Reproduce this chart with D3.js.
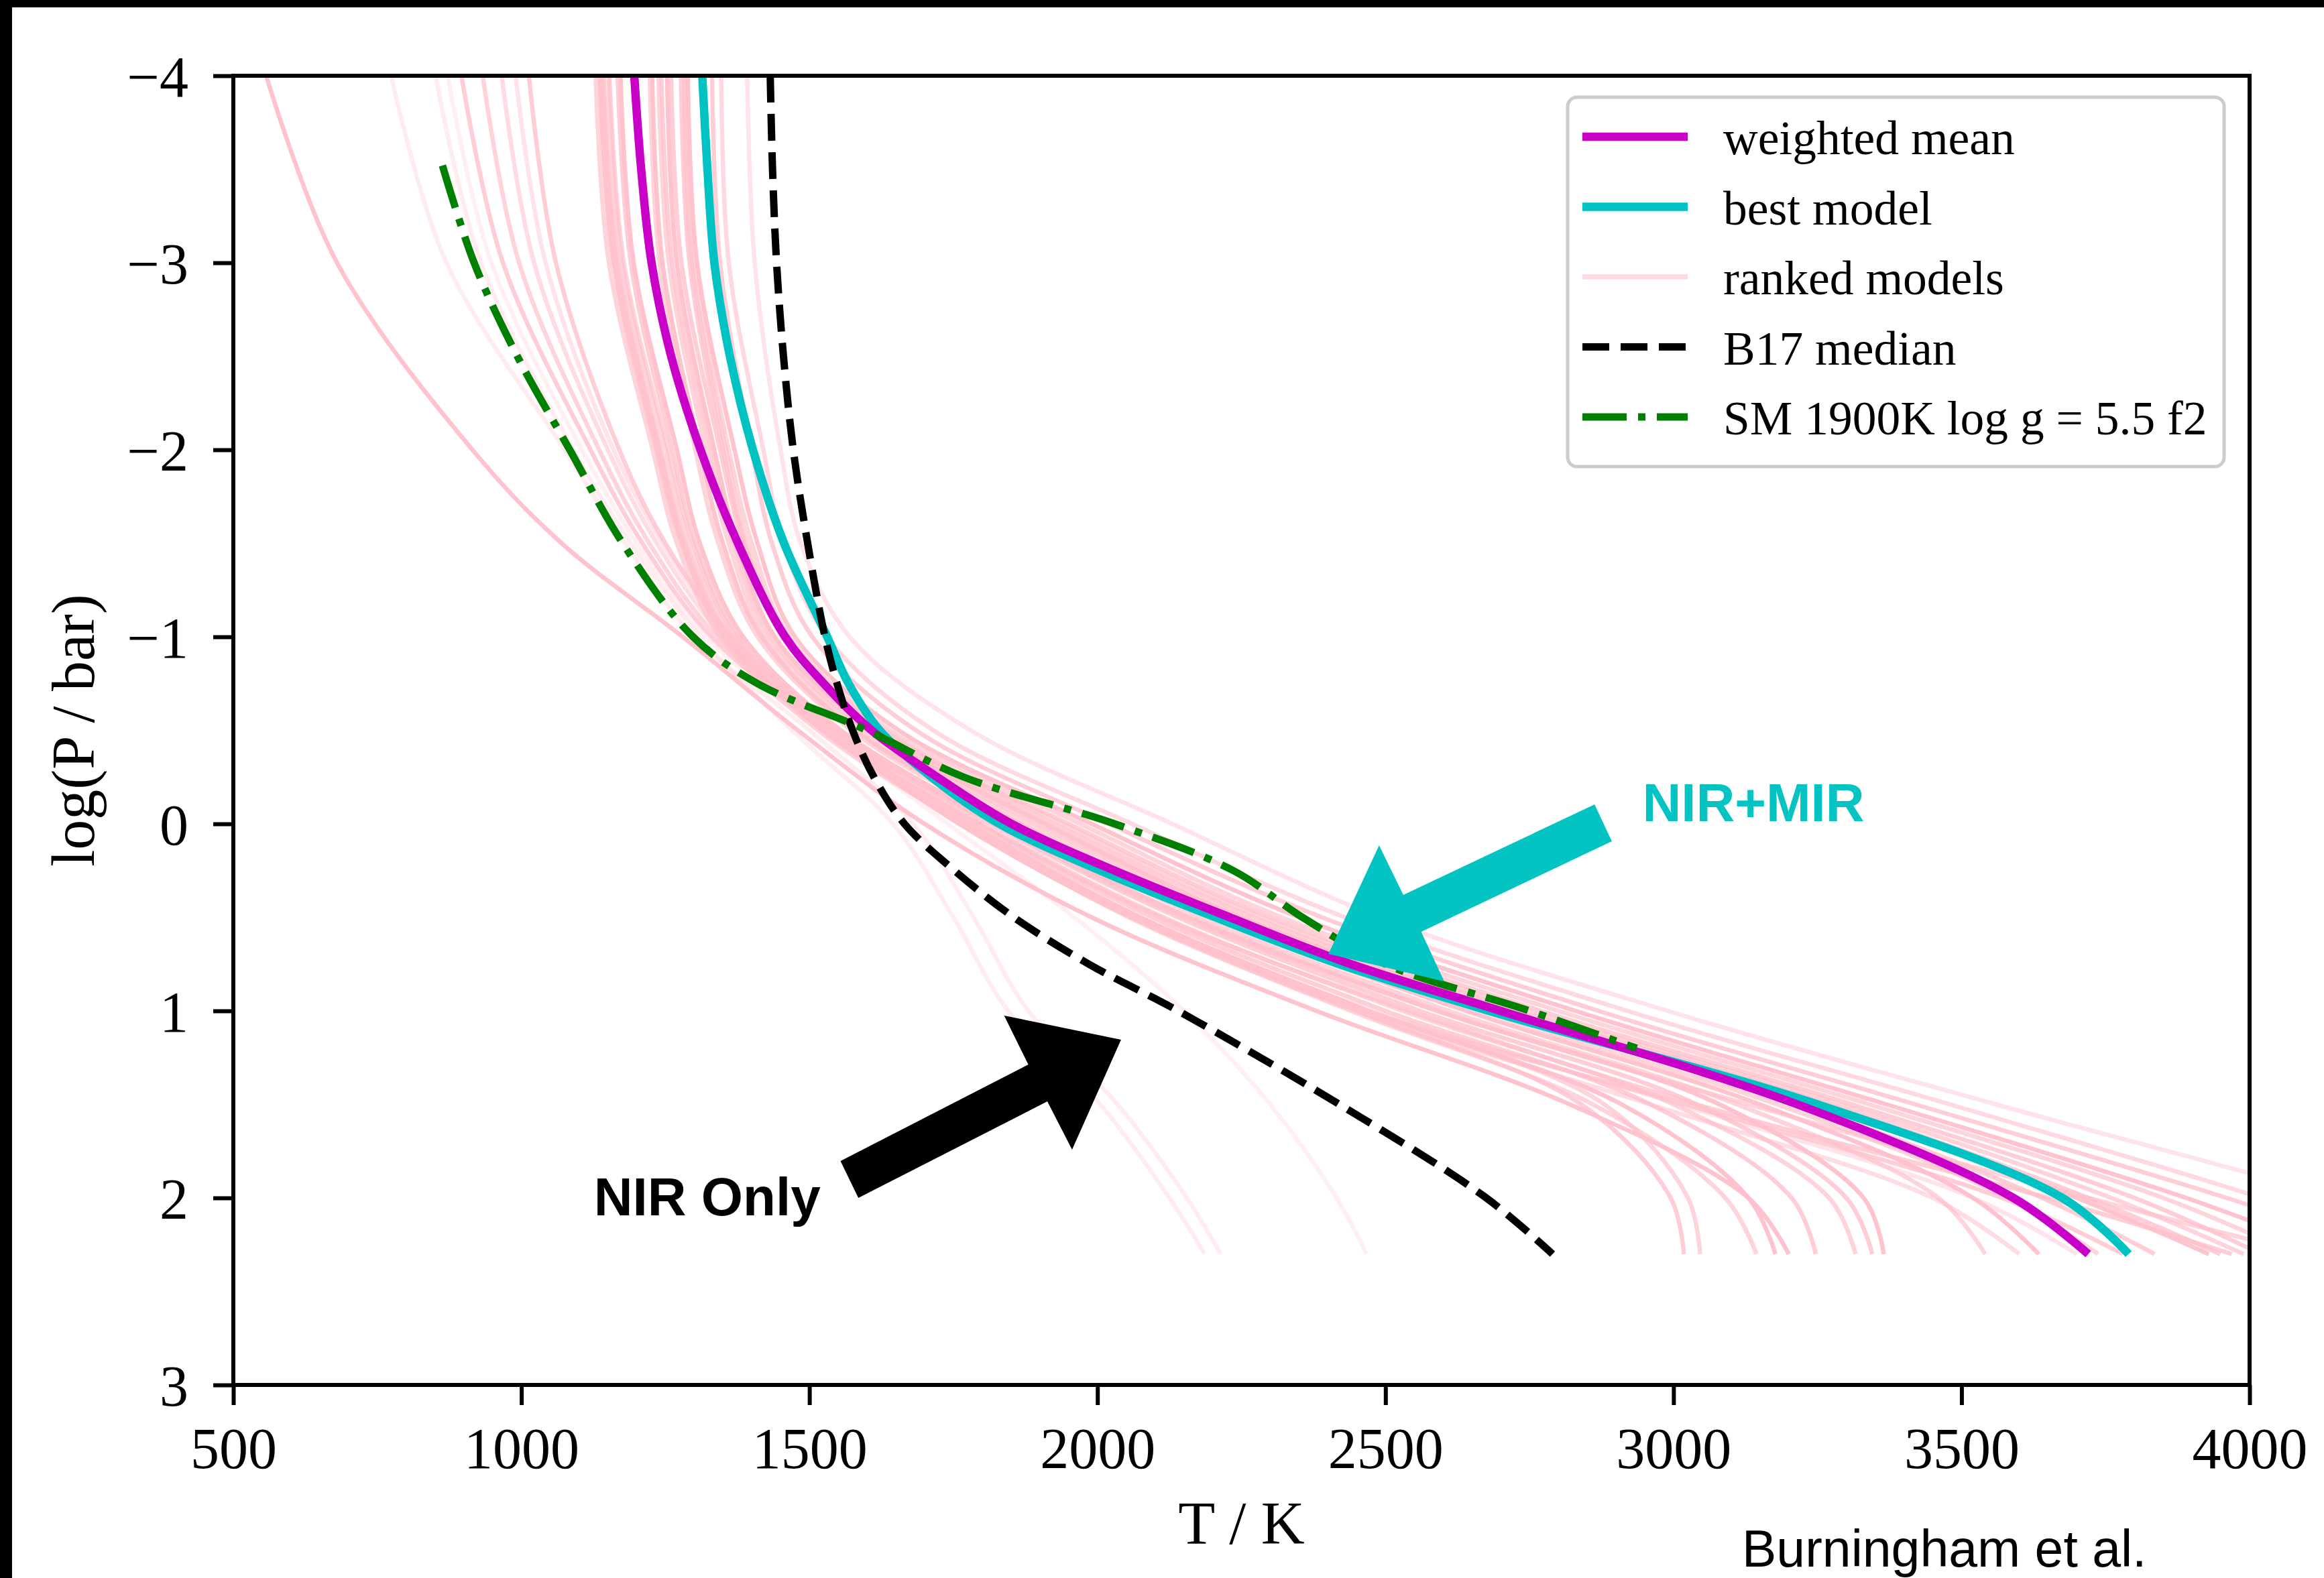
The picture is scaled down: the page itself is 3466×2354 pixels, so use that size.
<!DOCTYPE html>
<html><head><meta charset="utf-8">
<script src="https://cdn.jsdelivr.net/npm/d3@7"></script>
<style>html,body{margin:0;padding:0;background:#fff;} svg{display:block;}</style>
</head><body>
<svg id="chart" width="3466" height="2354"></svg>
<script>
// ---------- DATA ----------
const xTicks = [500, 1000, 1500, 2000, 2500, 3000, 3500, 4000];
const yTicks = [-4, -3, -2, -1, 0, 1, 2, 3];

// pressure grid (log P / bar) for the main profiles
const mainLevels = [-4, -3.5, -3, -2.5, -2, -1.5, -1, -0.75, -0.5, -0.25, 0, 0.25, 0.5, 0.75, 1, 1.5, 2, 2.3];
const weightedMean = [1196, 1208, 1226, 1260, 1311, 1376, 1458, 1525, 1608, 1722, 1851, 2030, 2230, 2440, 2700, 3215, 3590, 3720];
const bestModel    = [1314, 1323, 1335, 1362, 1402, 1456, 1531, 1568, 1622, 1712, 1830, 2005, 2205, 2420, 2680, 3250, 3675, 3790];
const b17Median    = [1432, 1436, 1443, 1455, 1472, 1497, 1527, 1548, 1575, 1612, 1665, 1752, 1855, 1985, 2140, 2420, 2675, 2790];

const smLevels  = [-3.52, -3, -2.5, -2, -1.5, -1, -0.75, -0.5, -0.25, 0, 0.25, 0.5, 0.75, 1, 1.2];
const smProfile = [863, 918, 993, 1084, 1176, 1298, 1410, 1600, 1768, 2030, 2236, 2356, 2500, 2750, 2936];

// ranked models (T in K at each level)
const rankedLevels = [-4, -3, -2, -1.5, -1, -0.5, 0, 0.5, 1, 1.5, 2, 2.3];
const rankedModels = [
  [1392, 1405, 1450, 1485, 1570, 1780, 2130, 2490, 2990, 3560, 4150, 4450],
  [1347, 1360, 1420, 1455, 1530, 1715, 2060, 2430, 2920, 3480, 4020, 4300],
  [1331, 1345, 1400, 1435, 1505, 1685, 2020, 2390, 2870, 3420, 3960, 4250],
  [1289, 1305, 1370, 1410, 1475, 1655, 1990, 2350, 2830, 3370, 3890, 4150],
  [1282, 1296, 1355, 1392, 1460, 1630, 1940, 2285, 2750, 3290, 3760, 3990],
  [1277, 1292, 1350, 1388, 1453, 1620, 1925, 2270, 2730, 3270, 3720, 3949],
  [1253, 1270, 1335, 1375, 1440, 1610, 1910, 2250, 2710, 3250, 3700, 3929],
  [1243, 1262, 1328, 1368, 1433, 1600, 1895, 2235, 2690, 3220, 3640, 3835],
  [1238, 1256, 1320, 1360, 1425, 1590, 1880, 2215, 2665, 3180, 3580, 3737],
  [1227, 1245, 1310, 1350, 1417, 1580, 1865, 2200, 2640, 3150, 3520, 3634],
  [1223, 1240, 1302, 1342, 1410, 1573, 1850, 2180, 2610, 3110, 3460, 3541],
  [1172, 1195, 1270, 1310, 1385, 1555, 1830, 2160, 2590, 3080, 3330, 3365],
  [1167, 1190, 1262, 1302, 1377, 1547, 1815, 2140, 2560, 3040, 3300, 3345],
  [1151, 1175, 1250, 1292, 1367, 1537, 1800, 2115, 2530, 3000, 3270, 3316],
  [1143, 1168, 1242, 1285, 1360, 1530, 1790, 2095, 2500, 2960, 3205, 3247],
  [1136, 1160, 1235, 1278, 1353, 1523, 1778, 2075, 2470, 2910, 3130, 3177],
  [1129, 1152, 1228, 1270, 1345, 1515, 1765, 2055, 2440, 2860, 3090, 3144],
  [1141, 1165, 1240, 1282, 1357, 1530, 1795, 2110, 2540, 3040, 3650, 3969],
  [1153, 1178, 1255, 1298, 1373, 1545, 1820, 2150, 2590, 3130, 3720, 4100],
  [1260, 1278, 1345, 1385, 1455, 1625, 1950, 2300, 2770, 3310, 3800, 4020],
  [1284, 1300, 1360, 1400, 1465, 1640, 1970, 2320, 2800, 3340, 3850, 4080],
  [774, 870, 1075, 1180, 1300, 1500, 1680, 1785, 1880, 2035, 2155, 2214],
  [851, 930, 1090, 1190, 1310, 1470, 1645, 1750, 1845, 2005, 2125, 2186],
  [872, 948, 1105, 1200, 1320, 1520, 1740, 1960, 2150, 2300, 2415, 2467],
  [896, 968, 1120, 1210, 1330, 1530, 1760, 2060, 2450, 2840, 2995, 3018],
  [933, 996, 1135, 1222, 1340, 1540, 1775, 2075, 2470, 2880, 3025, 3046],
  [966, 1022, 1150, 1235, 1350, 1530, 1760, 2060, 2450, 2960, 3450, 3600],
  [990, 1042, 1160, 1245, 1360, 1540, 1770, 2070, 2480, 3010, 3520, 3700],
  [1013, 1060, 1170, 1250, 1365, 1535, 1765, 2060, 2470, 3020, 3570, 3780],
  [557, 680, 915, 1070, 1280, 1480, 1700, 1990, 2380, 2820, 3130, 3200]
];
const rankedAlpha = [0.45, 0.6, 0.8, 0.95, 0.7, 0.8, 0.95, 0.8, 0.7, 0.95, 0.7, 0.95, 0.8, 0.7, 0.8, 0.95,
                     0.7, 0.8, 0.7, 0.8, 0.7, 0.3, 0.3, 0.25, 0.8, 0.7, 0.55, 0.45, 0.8, 0.95];

const legendLabels = ["weighted mean", "best model", "ranked models", "B17 median", "SM 1900K log g = 5.5 f2"];

// annotation arrows, vertices in data coordinates [T, logP]
const cyanArrow  = [[2863, -0.104], [2531, 0.380], [2489, 0.115], [2401, 0.695], [2602, 0.842], [2562, 0.577], [2893, 0.093]];
const blackArrow = [[1554, 1.803], [1880, 1.287], [1838, 1.025], [2041, 1.154], [1956, 1.742], [1913, 1.484], [1585, 2.000]];
const annotations = [
  {text: "NIR+MIR", T: 2946, p: -0.014, color: "#03C4C3"},
  {text: "NIR Only", T: 1126, p: 2.093, color: "#000000"}
];

// ---------- DRAW ----------
const W = 3466, H = 2354;
const plot = {left: 348, right: 3355, top: 113, bottom: 2066};
const serif = "'Liberation Serif', 'Times New Roman', Times, serif";
const sans = "'Liberation Sans', Arial, Helvetica, sans-serif";
const C = {pink: "#FFC0CB", mag: "#C800C8", cyan: "#00C2C2", green: "#008000", black: "#000000"};

const svg = d3.select("#chart");
svg.append("rect").attr("width", W).attr("height", H).attr("fill", "#fff");
svg.append("rect").attr("x", 0).attr("y", 0).attr("width", 18).attr("height", H).attr("fill", "#000");
svg.append("rect").attr("x", 0).attr("y", 0).attr("width", W).attr("height", 11).attr("fill", "#000");

const x = d3.scaleLinear().domain([500, 4000]).range([plot.left, plot.right]);
const y = d3.scaleLinear().domain([-4, 3]).range([plot.top, plot.bottom]);

svg.append("defs").append("clipPath").attr("id", "clip").append("rect")
  .attr("x", plot.left).attr("y", plot.top)
  .attr("width", plot.right - plot.left).attr("height", plot.bottom - plot.top);

const curve = d3.line().x(d => x(d[0])).y(d => y(d[1])).curve(d3.curveCatmullRom.alpha(0.5));
const prof = (levels, temps) => temps.map((t, i) => [t, levels[i]]);

const g = svg.append("g").attr("clip-path", "url(#clip)");

// ranked models
g.selectAll("path.ranked").data(rankedModels).join("path")
  .attr("class", "ranked")
  .attr("d", d => curve(prof(rankedLevels, d)))
  .attr("fill", "none").attr("stroke", C.pink)
  .attr("stroke-opacity", (d, i) => rankedAlpha[i])
  .attr("stroke-width", 6.5);

// best model, weighted mean
g.append("path").attr("d", curve(prof(mainLevels, bestModel)))
  .attr("fill", "none").attr("stroke", C.cyan).attr("stroke-width", 12.5);
g.append("path").attr("d", curve(prof(mainLevels, weightedMean)))
  .attr("fill", "none").attr("stroke", C.mag).attr("stroke-width", 12.5);
// B17 median
g.append("path").attr("d", curve(prof(mainLevels, b17Median)))
  .attr("fill", "none").attr("stroke", C.black).attr("stroke-width", 11)
  .attr("stroke-dasharray", "40,17");
// SM model
g.append("path").attr("d", curve(prof(smLevels, smProfile)))
  .attr("fill", "none").attr("stroke", C.green).attr("stroke-width", 11)
  .attr("stroke-dasharray", "66,17,11,17");

// axes
const xAxis = d3.axisBottom(x).tickValues(xTicks).tickSize(30).tickSizeOuter(0).tickPadding(33)
  .tickFormat(d3.format("d"));
const gx = svg.append("g").attr("transform", `translate(0,${plot.bottom})`).call(xAxis)
  .attr("font-family", serif).attr("font-size", 86);
gx.select(".domain").remove();
gx.selectAll(".tick line").attr("stroke", "#000").attr("stroke-width", 6);
gx.selectAll(".tick text").attr("fill", "#000");

const yAxis = d3.axisLeft(y).tickValues(yTicks).tickSize(30).tickSizeOuter(0).tickPadding(37)
  .tickFormat(d3.format("d"));
const gy = svg.append("g").attr("transform", `translate(${plot.left},0)`).call(yAxis)
  .attr("font-family", serif).attr("font-size", 86);
gy.select(".domain").remove();
gy.selectAll(".tick line").attr("stroke", "#000").attr("stroke-width", 6);
gy.selectAll(".tick text").attr("fill", "#000").attr("dy", "0.35em");

// spines
svg.append("rect").attr("x", plot.left).attr("y", plot.top)
  .attr("width", plot.right - plot.left).attr("height", plot.bottom - plot.top)
  .attr("fill", "none").attr("stroke", "#000").attr("stroke-width", 6);

// axis labels
svg.append("text").attr("x", (plot.left + plot.right) / 2).attr("y", 2303)
  .attr("text-anchor", "middle").attr("font-family", serif).attr("font-size", 90)
  .text("T / K");
svg.append("text").attr("transform", `translate(140,${(plot.top + plot.bottom) / 2}) rotate(-90)`)
  .attr("text-anchor", "middle").attr("font-family", serif).attr("font-size", 90)
  .text("log(P / bar)");

// arrows
const poly = d3.line().x(d => x(d[0])).y(d => y(d[1]));
svg.append("path").attr("d", poly(cyanArrow) + "Z").attr("fill", "#03C4C3");
svg.append("path").attr("d", poly(blackArrow) + "Z").attr("fill", "#000");
svg.selectAll("text.annot").data(annotations).join("text")
  .attr("class", "annot")
  .attr("x", d => x(d.T)).attr("y", d => y(d.p))
  .attr("font-family", sans).attr("font-weight", "bold").attr("font-size", 80)
  .attr("fill", d => d.color).text(d => d.text);

// legend
const lg = svg.append("g");
lg.append("rect").attr("x", 2338).attr("y", 145).attr("width", 979).attr("height", 551)
  .attr("rx", 14).attr("fill", "#fff").attr("stroke", "#cccccc").attr("stroke-width", 5);
const legendStyles = [
  {stroke: C.mag, width: 12.5, dash: null, op: 1},
  {stroke: C.cyan, width: 12.5, dash: null, op: 1},
  {stroke: C.pink, width: 7.5, dash: null, op: 0.6},
  {stroke: C.black, width: 11, dash: "40,17", op: 1},
  {stroke: C.green, width: 11, dash: "66,17,11,17", op: 1}
];
legendLabels.forEach((lab, i) => {
  const cy = 204 + i * 104.5;
  const s = legendStyles[i];
  lg.append("line").attr("x1", 2360).attr("x2", 2517).attr("y1", cy).attr("y2", cy)
    .attr("stroke", s.stroke).attr("stroke-width", s.width).attr("stroke-opacity", s.op)
    .attr("stroke-dasharray", s.dash);
  lg.append("text").attr("x", 2570).attr("y", cy + 26)
    .attr("font-family", serif).attr("font-size", 71.5).text(lab);
});

// credit
svg.append("text").attr("x", 2598).attr("y", 2337)
  .attr("font-family", sans).attr("font-size", 77).text("Burningham et al.");
</script>
</body></html>
